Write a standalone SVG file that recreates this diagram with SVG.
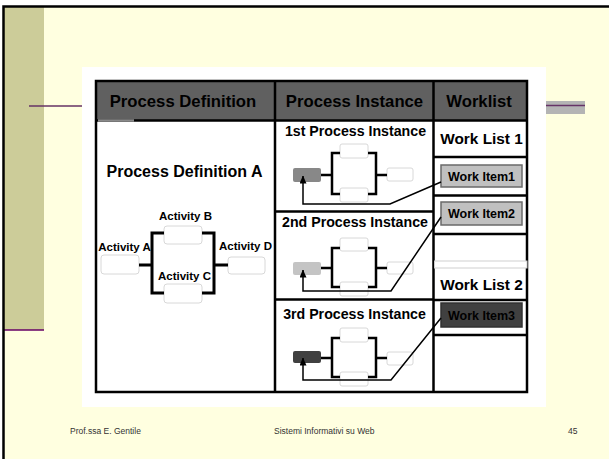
<svg xmlns="http://www.w3.org/2000/svg" width="609" height="459" viewBox="0 0 609 459">
<style>
.t{font-family:"Liberation Sans",Arial,sans-serif;font-weight:bold;fill:#000;text-anchor:middle}
.hd{font-size:16.7px}
.pd{font-size:16px}
.pi{font-size:14.2px}
.wl{font-size:15.4px}
.wi{font-size:12.5px}
.act{font-size:11.5px}
.ft{font-family:"Liberation Sans",Arial,sans-serif;font-size:8.5px;fill:#333}
.grid{stroke:#000;stroke-width:2.5;fill:none}
.box{fill:#fff;stroke:#d8d8d8;stroke-width:1}
.br{stroke:#000;stroke-width:3;fill:none}
.bri{stroke:#000;stroke-width:2.5;fill:none}
.fb{stroke:#000;stroke-width:1.5;fill:none}
.item{stroke:#6a6a6a;stroke-width:1.5}
</style>
<defs>
<marker id="ah" viewBox="0 0 8 7" refX="7.5" refY="3.5" markerWidth="8" markerHeight="7" markerUnits="userSpaceOnUse" orient="auto">
<path d="M0,0 L8,3.5 L0,7 Z" fill="#000"/>
</marker>
</defs>
<!-- slide background -->
<rect x="0" y="0" width="609" height="459" fill="#fff"/>
<rect x="4" y="7" width="605" height="452" fill="#ffffe0"/>
<rect x="4" y="7" width="40" height="323" fill="#cccc99"/>
<line x1="4" y1="330" x2="44" y2="330" stroke="#660066" stroke-width="1.5"/>
<path d="M3.5,459 V6.5 H609" fill="none" stroke="#000" stroke-width="2.5"/>
<line x1="29" y1="106" x2="82" y2="106" stroke="#663366" stroke-width="1.5"/>
<rect x="546" y="101" width="39" height="13" fill="#b4b4b4"/>
<line x1="546" y1="105.5" x2="585" y2="105.5" stroke="#663366" stroke-width="1.5"/>
<!-- white panel -->
<rect x="82" y="67" width="464" height="340" fill="#fff"/>
<!-- table -->
<g id="table">
<rect x="96" y="81" width="431" height="39.5" fill="#606060"/>
<rect x="96" y="81" width="431" height="311" class="grid"/>
<line x1="96" y1="120.5" x2="527" y2="120.5" class="grid"/>
<line x1="98" y1="120.5" x2="134" y2="120.5" stroke="#8a8a8a" stroke-width="2.5"/>
<line x1="275" y1="81" x2="275" y2="392" class="grid"/>
<line x1="433.5" y1="81" x2="433.5" y2="392" class="grid"/>
<line x1="275" y1="211.5" x2="433.5" y2="211.5" class="grid"/>
<line x1="275" y1="299.5" x2="433.5" y2="299.5" class="grid"/>
<line x1="433.5" y1="157" x2="527" y2="157" class="grid"/>
<line x1="433.5" y1="195.5" x2="527" y2="195.5" class="grid"/>
<line x1="433.5" y1="234" x2="527" y2="234" class="grid"/>
<line x1="433.5" y1="300" x2="527" y2="300" class="grid"/>
<line x1="433.5" y1="335" x2="527" y2="335" class="grid"/>
<rect x="434.5" y="261" width="92.5" height="7" fill="#fff" stroke="#cfcfcf" stroke-width="1"/>
<text class="t hd" x="183" y="107">Process Definition</text>
<text class="t hd" x="354.5" y="107">Process Instance</text>
<text class="t hd" x="479" y="107">Worklist</text>
</g>
<!-- process definition -->
<g id="process-definition-a">
<text class="t pd" x="184.5" y="177">Process Definition A</text>
</g>
<g id="activity-a">
<rect class="box" x="101" y="255" width="38" height="19" rx="3"/>
<text class="t act" x="124.5" y="251">Activity A</text>
</g>
<g id="activity-b">
<rect class="box" x="164" y="226" width="38" height="18" rx="3"/>
<text class="t act" x="185.5" y="220">Activity B</text>
</g>
<g id="activity-c">
<rect class="box" x="164" y="284" width="38" height="19" rx="3"/>
<text class="t act" x="184.5" y="280">Activity C</text>
</g>
<g id="activity-d">
<rect class="box" x="228" y="257" width="37" height="17" rx="3"/>
<text class="t act" x="245.5" y="250">Activity D</text>
</g>
<!-- instances -->
<g id="instance-1">
<text class="t pi" x="355.5" y="136">1st Process Instance</text>
<rect x="293" y="168" width="28" height="14" rx="2" fill="#888"/>
<rect class="box" x="340" y="144" width="28" height="14" rx="2"/>
<rect class="box" x="340" y="188" width="28" height="14" rx="2"/>
<rect class="box" x="387" y="168" width="26" height="13" rx="2"/>
</g>
<g id="instance-2">
<text class="t pi" x="355" y="227">2nd Process Instance</text>
<rect x="293" y="262" width="28" height="13" rx="2" fill="#c4c4c4"/>
<rect class="box" x="340" y="238" width="28" height="13" rx="2"/>
<rect class="box" x="340" y="282" width="28" height="14" rx="2"/>
<rect class="box" x="387" y="262" width="26" height="12" rx="2"/>
</g>
<g id="instance-3">
<text class="t pi" x="354.5" y="319">3rd Process Instance</text>
<rect x="293" y="351" width="28" height="12" rx="2" fill="#404040"/>
<rect class="box" x="340" y="328" width="28" height="14" rx="2"/>
<rect class="box" x="340" y="372" width="28" height="14" rx="2"/>
<rect class="box" x="387" y="352" width="26" height="13" rx="2"/>
</g>
<!-- worklist -->
<g id="work-list-1">
<text class="t wl" x="481.5" y="144">Work List 1</text>
</g>
<g id="work-item-1">
<rect class="item" x="441" y="165" width="81" height="22" fill="#c0c0c0"/>
<text class="t wi" x="481.5" y="181">Work Item1</text>
</g>
<g id="work-item-2">
<rect class="item" x="441" y="202" width="81" height="23" fill="#c0c0c0"/>
<text class="t wi" x="481.5" y="218">Work Item2</text>
</g>
<g id="work-list-2">
<text class="t wl" x="481.5" y="290">Work List 2</text>
</g>
<g id="work-item-3">
<rect x="441" y="303" width="81" height="24" fill="#404040" stroke="#303030" stroke-width="1.5"/>
<text class="t wi" x="481.5" y="320" fill="#111">Work Item3</text>
</g>
<!-- connectors -->
<g id="connectors">
<path class="br" d="M139,265 H152 M164,233 H152 V293 H164 M202,233 H214 V293 H202 M214,265 H228"/>
<path class="bri" d="M321,175 H332 M340,153 H332 V194 H340 M368,153 H376 V194 H368 M376,175 H387"/>
<path class="bri" d="M321,268 H332 M340,248 H332 V287 H340 M368,248 H376 V287 H368 M376,268 H387"/>
<path class="bri" d="M321,358 H332 M340,338 H332 V377 H340 M368,338 H376 V377 H368 M376,358 H387"/>
<path class="fb" d="M441,182 L390,204 H303 V176" marker-end="url(#ah)"/>
<path class="fb" d="M441,217 L391,291 H303 V270" marker-end="url(#ah)"/>
<path class="fb" d="M441,318 L391,380 H303 V358" marker-end="url(#ah)"/>
</g>
<!-- footer -->
<text class="ft" x="70" y="434">Prof.ssa E. Gentile</text>
<text class="ft" x="274" y="434">Sistemi Informativi su Web</text>
<text class="ft" x="568" y="434">45</text>
</svg>
